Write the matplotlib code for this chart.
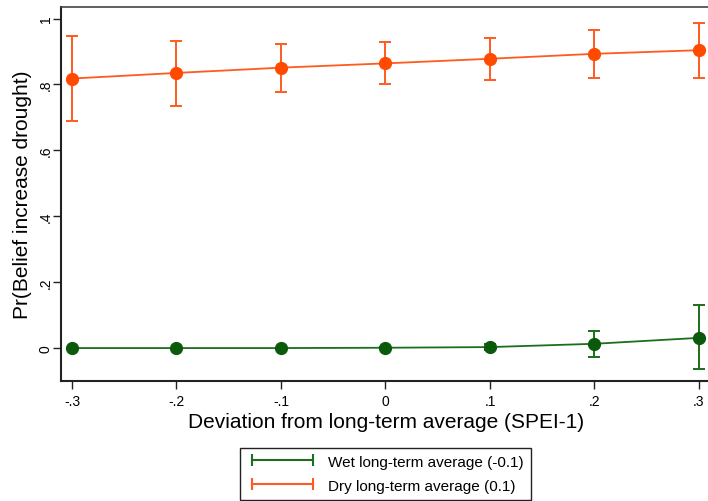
import numpy as np
import matplotlib.pyplot as plt
from matplotlib.lines import Line2D

## deviation from long-term average (SPEI-1)
spei = [-0.3, -0.2, -0.1, 0.0, 0.1, 0.2, 0.3]
xtick_labels = ['-.3', '-.2', '-.1', '0', '.1', '.2', '.3']
yticks = [0, 0.2, 0.4, 0.6, 0.8, 1.0]
ytick_labels = ['0', '.2', '.4', '.6', '.8', '1']

## predicted probabilities with confidence limits
wet_p = [0.000, 0.000, 0.000, 0.001, 0.003, 0.013, 0.031]
wet_lo = [0.000, 0.000, 0.000, 0.000, -0.005, -0.027, -0.064]
wet_hi = [0.000, 0.000, 0.000, 0.002, 0.011, 0.052, 0.130]

dry_p = [0.818, 0.835, 0.851, 0.864, 0.878, 0.893, 0.904]
dry_lo = [0.688, 0.736, 0.776, 0.800, 0.815, 0.819, 0.820]
dry_hi = [0.948, 0.932, 0.924, 0.930, 0.942, 0.965, 0.988]

wet_col = '#1b6e1b'
wet_mk = '#0b5a0b'
dry_col = '#ff5a1f'
dry_mk = '#ff4a00'

plt.rcParams['font.family'] = ['Liberation Sans', 'DejaVu Sans']

fig = plt.figure(figsize=(7.08, 5.02), dpi=100)
ax = fig.add_axes([0.0862, 0.239, 0.918, 0.745])

for p, lo, hi, lc, mc in [(wet_p, wet_lo, wet_hi, wet_col, wet_mk),
                          (dry_p, dry_lo, dry_hi, dry_col, dry_mk)]:
    p = np.array(p)
    err = [p - np.array(lo), np.array(hi) - p]
    ax.errorbar(spei, p, yerr=err, fmt='none', ecolor=lc, elinewidth=1.4,
                capsize=4.5, capthick=1.4, zorder=2)
    ax.plot(spei, p, '-', color=lc, lw=1.3, zorder=3)
    ax.plot(spei, p, 'o', color=mc, ms=8.5, zorder=4)

ax.set_xlim(-0.3105, 0.3115)
ax.set_ylim(-0.1, 1.035)
ax.set_xticks(spei)
ax.set_xticklabels(xtick_labels, fontsize=10)
ax.set_yticks(yticks)
ax.set_yticklabels(ytick_labels, fontsize=10, rotation=90, va='center')
ax.tick_params(direction='out', length=5.5, width=1, color='#222222')
ax.tick_params(axis='y', pad=0.5)

for s in ['left', 'bottom']:
    ax.spines[s].set_linewidth(1.5)
    ax.spines[s].set_color('#222222')
for s in ['top', 'right']:
    ax.spines[s].set_linewidth(1.2)
    ax.spines[s].set_color('#444444')

ax.set_xlabel('Deviation from long-term average (SPEI-1)', fontsize=15, labelpad=3)
ax.set_ylabel('Pr(Belief increase drought)', fontsize=15, labelpad=5)

handles = [Line2D([0], [0], color=wet_col, lw=1.5, marker='|', ms=8, mew=1.5),
           Line2D([0], [0], color=dry_col, lw=1.5, marker='|', ms=8, mew=1.5)]
labels = ['Wet long-term average (-0.1)', 'Dry long-term average (0.1)']
leg = fig.legend(handles, labels, loc='upper center', bbox_to_anchor=(0.5445, 0.121),
                 numpoints=2, fontsize=11, fancybox=False, edgecolor='#222222',
                 framealpha=1, handlelength=4.6, handletextpad=0.7,
                 borderpad=0.45, labelspacing=0.65)
leg.get_frame().set_linewidth(1.0)

fig.savefig('out.png', dpi=100)
